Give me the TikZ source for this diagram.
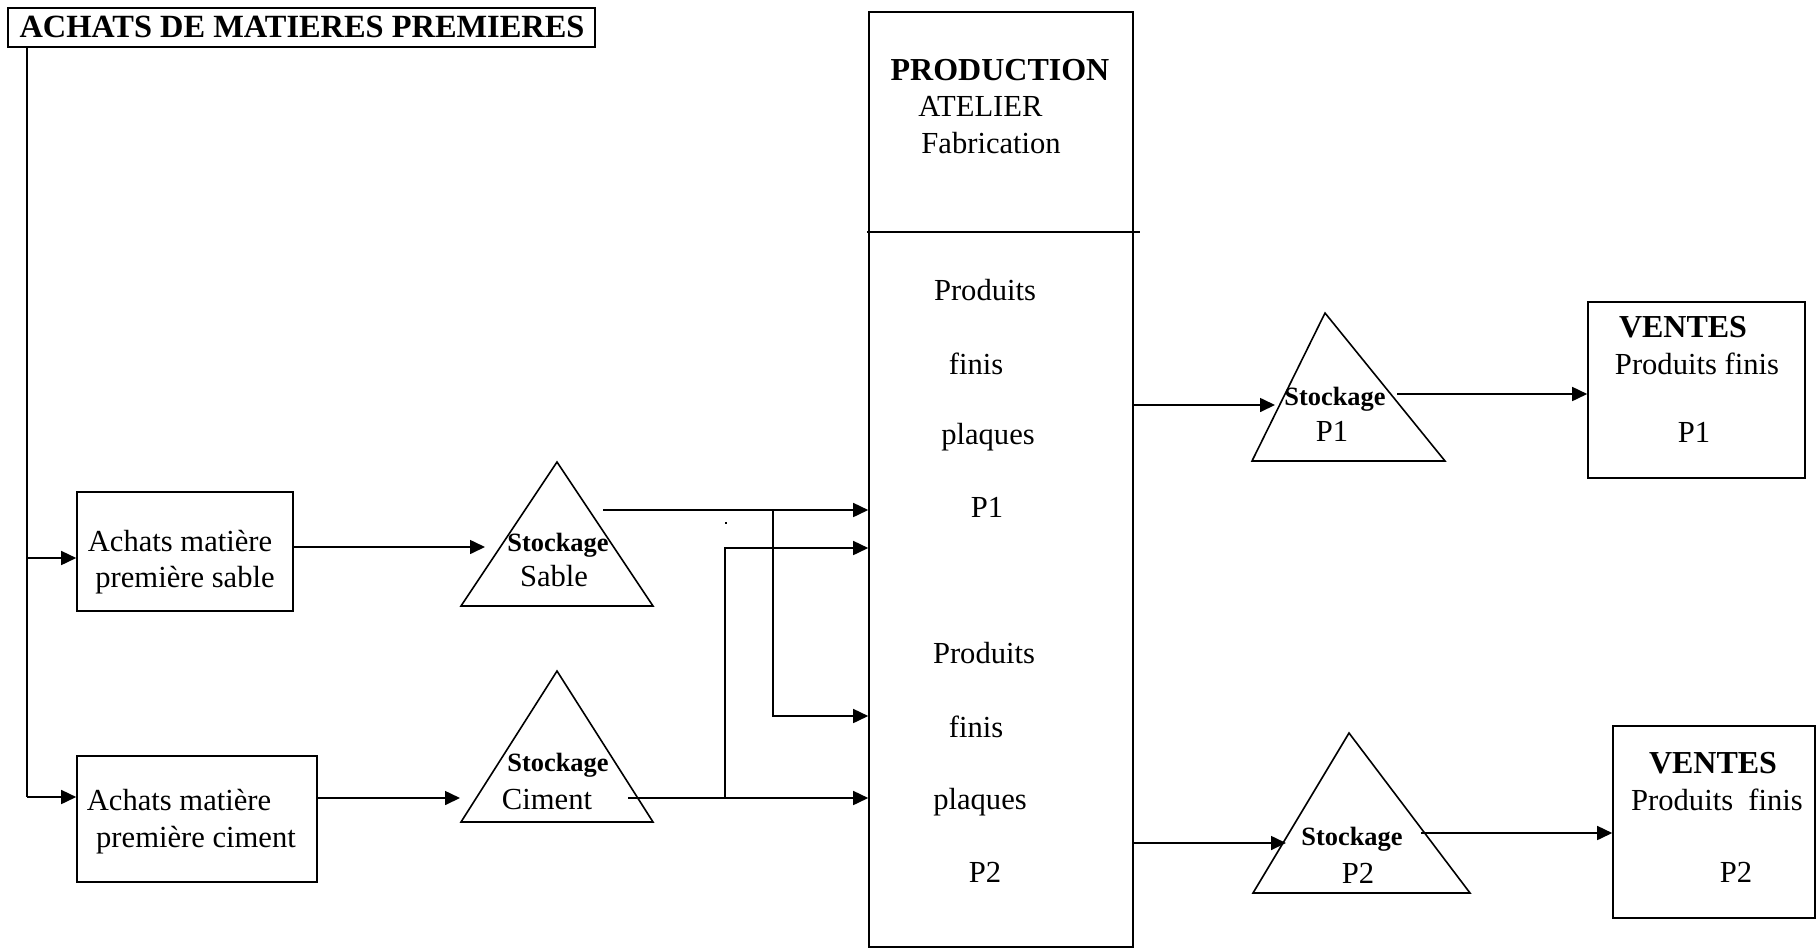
\documentclass[tikz,border=0pt]{standalone}
\usepackage{fontspec}
\setmainfont{Liberation Serif}
\usetikzlibrary{arrows.meta,fit}
\begin{document}
\begin{tikzpicture}[x=0.5pt,y=-0.5pt,
  line/.style={line width=0.8pt},
  arr/.style={line width=0.8pt,-{Triangle[length=7.5pt,width=7pt]}},
  box/.style={draw,line width=0.8pt,inner sep=0pt},
  txt/.style={inner sep=0pt,text height=10.1pt,text depth=0pt,font=\fontsize{15.3}{18}\selectfont},
  btxt/.style={inner sep=0pt,text height=10.5pt,text depth=0pt,font=\bfseries\fontsize{16}{19}\selectfont},
  stk/.style={inner sep=0pt,text height=8.7pt,text depth=0pt,font=\bfseries\fontsize{13.2}{16}\selectfont}]
\useasboundingbox (0,0) rectangle (1818,948);

% boxes
\node[box,fit={(8,8) (595,47)}] (title) {};
\node[box,fit={(77,492) (293,611)}] (sablebox) {};
\node[box,fit={(77,756) (317,882)}] (cimentbox) {};
\node[box,fit={(869,12) (1133,947)}] (prod) {};
\node[box,fit={(1588,302) (1805,478)}] (ventesA) {};
\node[box,fit={(1613,726) (1815,918)}] (ventesB) {};
\coordinate (divL) at (867,232);
\coordinate (divR) at (1140,232);
\draw[line] (divL) -- (divR);

% triangles
\coordinate (tsA) at (461,606); \coordinate (tsB) at (557,462); \coordinate (tsC) at (653,606);
\coordinate (tcA) at (461,822); \coordinate (tcB) at (557,671); \coordinate (tcC) at (653,822);
\coordinate (t1A) at (1252,461); \coordinate (t1B) at (1325,313); \coordinate (t1C) at (1445,461);
\coordinate (t2A) at (1253,893); \coordinate (t2B) at (1349,733); \coordinate (t2C) at (1470,893);
\draw[line,line join=miter] (tsA) -- (tsB) -- (tsC) -- cycle;
\draw[line,line join=miter] (tcA) -- (tcB) -- (tcC) -- cycle;
\draw[line,line join=miter] (t1A) -- (t1B) -- (t1C) -- cycle;
\draw[line,line join=miter] (t2A) -- (t2B) -- (t2C) -- cycle;

% texts
\node[btxt,font=\bfseries\fontsize{16.2}{19}\selectfont] (titletxt) at (302,27) {ACHATS DE MATIERES PREMIERES};
\node[btxt] (production) at (1000,70) {PRODUCTION};
\node[txt,anchor=west] (atelier) at (918,106) {ATELIER};
\node[txt,anchor=west] (fabrication) at (921,143) {Fabrication};
\node[txt] (pfA1) at (985,290) {Produits};
\node[txt] (pfA2) at (976,364) {finis};
\node[txt] (pfA3) at (988,434) {plaques};
\node[txt] (pfA4) at (987,507) {P1};
\node[txt] (pfB1) at (984,653) {Produits};
\node[txt] (pfB2) at (976,727) {finis};
\node[txt] (pfB3) at (980,799) {plaques};
\node[txt] (pfB4) at (985,872) {P2};
\node[txt] (as1) at (180,541) {Achats matière};
\node[txt] (as2) at (185,577) {première sable};
\node[txt] (ac1) at (179,800) {Achats matière};
\node[txt] (ac2) at (196,837) {première ciment};
\node[stk] (ss1) at (558,543) {Stockage};
\node[txt] (ss2) at (554,576) {Sable};
\node[stk] (sc1) at (558,763) {Stockage};
\node[txt] (sc2) at (547,799) {Ciment};
\node[stk] (s11) at (1335,397) {Stockage};
\node[txt] (s12) at (1332,431) {P1};
\node[stk] (s21) at (1352,837) {Stockage};
\node[txt] (s22) at (1358,873) {P2};
\node[btxt] (vA1) at (1683,327) {VENTES};
\node[txt] (vA2) at (1697,364) {Produits finis};
\node[txt] (vA3) at (1694,432) {P1};
\node[btxt] (vB1) at (1713,763) {VENTES};
\node[txt] (vB2) at (1717,800) {Produits\ \ finis};
\node[txt] (vB3) at (1736,872) {P2};

% connectors left
\coordinate (jT) at (27,47);
\coordinate (jS) at (27,558);
\coordinate (jC) at (27,797);
\draw[line] (jT) -- (jC);
\draw[arr] (jS) -- (jS -| sablebox.west);
\draw[arr] (jC) -- (jC -| cimentbox.west);

\coordinate (sbIn) at (485,547);
\coordinate (cbIn) at (460,798);
\draw[arr] (sbIn -| sablebox.east) -- (sbIn);
\draw[arr] (cbIn -| cimentbox.east) -- (cbIn);

% connectors to production
\coordinate (sOut) at (603,510);
\coordinate (cOut) at (628,798);
\coordinate (v1t) at (773,510);
\coordinate (v1b) at (773,716);
\coordinate (v2t) at (725,548);
\coordinate (v2b) at (725,798);
\draw[arr] (sOut) -- (sOut -| prod.west);
\draw[arr] (v1t) -- (v1b) -- (v1b -| prod.west);
\draw[arr] (v2b) -- (v2t) -- (v2t -| prod.west);
\draw[arr] (cOut) -- (cOut -| prod.west);
\fill (725,522) rectangle (727,524);

% right side
\coordinate (p1In) at (1275,405);
\coordinate (p1Out) at (1397,394);
\coordinate (p2In) at (1286,843);
\coordinate (p2Out) at (1421,833);
\draw[arr] (p1In -| prod.east) -- (p1In);
\draw[arr] (p1Out) -- (p1Out -| ventesA.west);
\draw[arr] (p2In -| prod.east) -- (p2In);
\draw[arr] (p2Out) -- (p2Out -| ventesB.west);
\end{tikzpicture}
\end{document}
